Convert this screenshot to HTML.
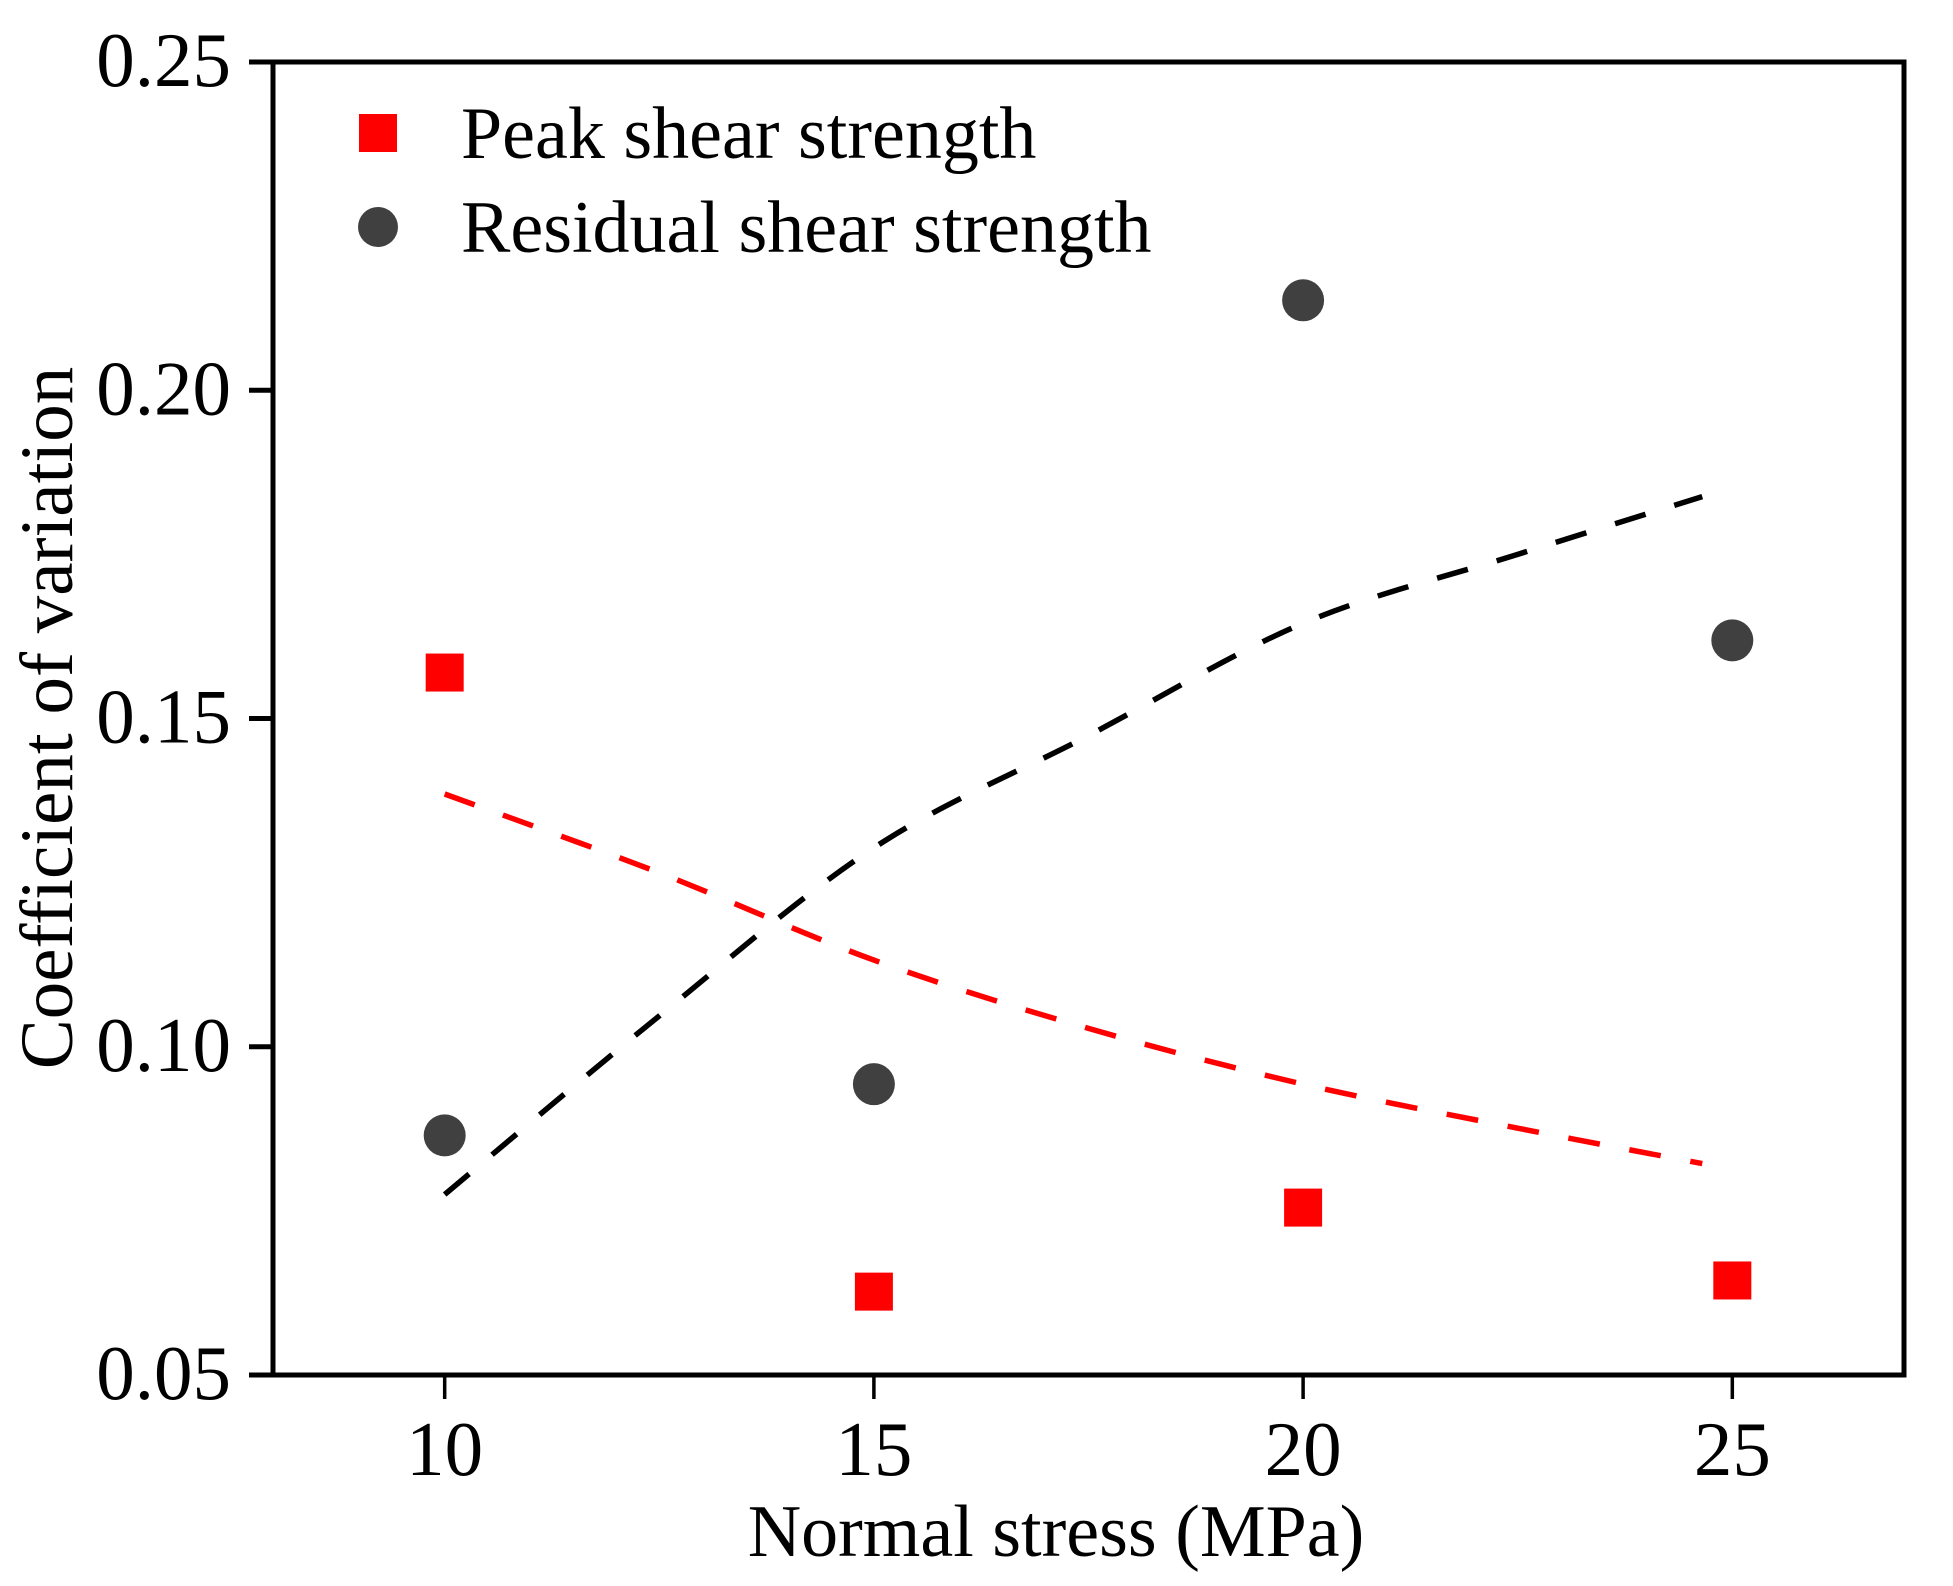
<!DOCTYPE html>
<html><head><meta charset="utf-8"><style>
html,body{margin:0;padding:0;background:#fff;}
svg{display:block;font-family:"Liberation Serif",serif;}
</style></head><body>
<svg id="chart" width="1953" height="1586" viewBox="0 0 1953 1586">
<g id="axes"></g><g id="marks"></g>
<g>
<rect x="359" y="114" width="38" height="38" fill="#ff0000"/>
<text x="461" y="158" font-size="74">Peak shear strength</text>
<circle cx="378" cy="227" r="20" fill="#404040"/>
<text x="461" y="252" font-size="74">Residual shear strength</text>
</g>
<text x="1056" y="1556" font-size="74" text-anchor="middle">Normal stress (MPa)</text>
<text transform="translate(72,718) rotate(-90)" font-size="75" text-anchor="middle">Coefficient of variation</text>
</svg>
<script>
const xTicks=[10,15,20,25];
const yTicks=[0.05,0.10,0.15,0.20,0.25];
const yTickLabels=["0.05","0.10","0.15","0.20","0.25"];
const stress=[10,15,20,25];
const peakCV=[0.157,0.0627,0.0755,0.0644];
const residualCV=[0.0865,0.0943,0.2137,0.1619];
const fitX=[10,12.5,15,17.5,20,22.5,24.65];
const peakFit=[0.1385,0.1265,0.1132,0.1028,0.0943,0.0876,0.0822];
const residualFit=[0.0775,0.1047,0.1303,0.1474,0.1645,0.1750,0.1838];

const L=273,R=1904,T=62,B=1375,x0=8,x1=27,y0=0.05,y1=0.25;
const X=v=>L+(v-x0)/(x1-x0)*(R-L);
const Y=v=>B-(v-y0)/(y1-y0)*(B-T);
const NS="http://www.w3.org/2000/svg";
function mk(tag,attrs,parent){const e=document.createElementNS(NS,tag);for(const k in attrs)e.setAttribute(k,attrs[k]);parent.appendChild(e);return e;}
const axes=document.getElementById('axes'),marks=document.getElementById('marks');
let f=mk('rect',{x:L,y:T,width:R-L,height:B-T,fill:'none',stroke:'#000','stroke-width':5},axes);


xTicks.forEach(t=>{
 let l=mk('line',{x1:X(t),x2:X(t),y1:B,y2:B+24,stroke:'#000','stroke-width':3.5},axes);
 
 
 let tx=mk('text',{x:X(t),y:1475,'font-size':77,'text-anchor':'middle'},axes);tx.textContent=t;
 
 
});
yTicks.forEach((t,i)=>{
 let l=mk('line',{x1:L-24,x2:L,y1:Y(t),y2:Y(t),stroke:'#000','stroke-width':5},axes);
 
 
 let tx=mk('text',{x:231,y:Y(t)+24,'font-size':77,'text-anchor':'end'},axes);tx.textContent=yTickLabels[i];
 
 
});
function curve(xs,ys){const p=xs.map((x,i)=>[X(x),Y(ys[i])]);let d='M'+p[0][0]+','+p[0][1];
 for(let i=0;i<p.length-1;i++){const a=p[i-1]||p[i],b=p[i],c=p[i+1],e=p[i+2]||c;
  d+=' C'+(b[0]+(c[0]-a[0])/6)+','+(b[1]+(c[1]-a[1])/6)+' '+(c[0]-(e[0]-b[0])/6)+','+(c[1]-(e[1]-b[1])/6)+' '+c[0]+','+c[1];}
 return d;}
let pf=mk('path',{d:curve(fitX,peakFit),fill:'none',stroke:'#ff0000','stroke-width':5.5,'stroke-dasharray':'32 30'},marks);


let rf=mk('path',{d:curve(fitX,residualFit),fill:'none',stroke:'#000','stroke-width':5.5,'stroke-dasharray':'32 30'},marks);


stress.forEach((s,i)=>{
 let r=mk('rect',{x:X(s)-19,y:Y(peakCV[i])-19,width:38,height:38,fill:'#ff0000'},marks);
 
 
 let c=mk('circle',{cx:X(s),cy:Y(residualCV[i]),r:21,fill:'#404040'},marks);
 
 
});
</script>
</body></html>
